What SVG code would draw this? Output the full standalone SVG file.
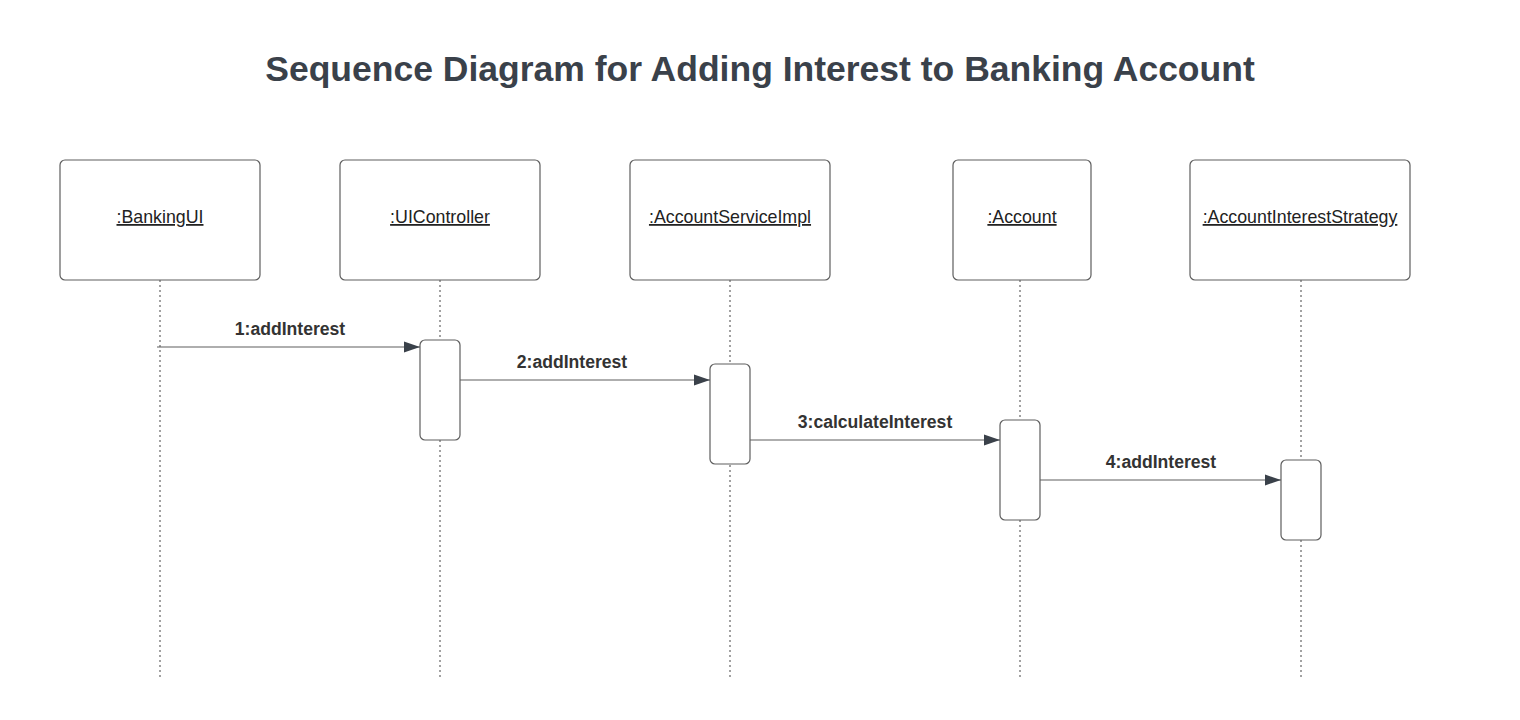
<svg xmlns="http://www.w3.org/2000/svg" width="1520" height="720" viewBox="0 0 1520 720">
<defs>
<marker id="arr" markerWidth="18" markerHeight="14" refX="16" refY="7" orient="auto" markerUnits="userSpaceOnUse">
<path d="M0,1.5 L16,7 L0,12.5 Z" fill="#3a414a"/>
</marker>
<style>
.box{fill:#fff;stroke:#5e5e5e;stroke-width:1.2}
.act{fill:#fff;stroke:#5e5e5e;stroke-width:1.2}
.life{stroke:#444;stroke-width:1;stroke-dasharray:2,3;fill:none}
.msg{stroke:#5e5e5e;stroke-width:1.2;fill:none;marker-end:url(#arr)}
.name{font-family:"Liberation Sans",Arial,sans-serif;font-size:17.8px;fill:#222;text-anchor:middle;text-decoration:underline}
.lbl{font-family:"Liberation Sans",Arial,sans-serif;font-size:17.6px;font-weight:bold;fill:#333;text-anchor:middle}
.title{font-family:"Liberation Sans",Arial,sans-serif;font-size:35.5px;font-weight:bold;fill:#3a414a;text-anchor:middle}
</style>
</defs>
<rect width="1520" height="720" fill="#fff"/>
<text class="title" x="760" y="81">Sequence Diagram for Adding Interest to Banking Account</text>

<g id="lifelines">
<line class="life" x1="160" y1="280" x2="160" y2="680"/>
<line class="life" x1="440" y1="280" x2="440" y2="680"/>
<line class="life" x1="730" y1="280" x2="730" y2="680"/>
<line class="life" x1="1020" y1="280" x2="1020" y2="680"/>
<line class="life" x1="1301" y1="280" x2="1301" y2="680"/>
</g>

<g id="bankingui">
<rect class="box" x="60" y="160" width="200" height="120" rx="5"/>
<text class="name" x="160" y="223">:BankingUI</text>
</g>
<g id="uicontroller">
<rect class="box" x="340" y="160" width="200" height="120" rx="5"/>
<text class="name" x="440" y="223">:UIController</text>
<rect class="act" x="420" y="340" width="40" height="100" rx="5"/>
</g>
<g id="accountserviceimpl">
<rect class="box" x="630" y="160" width="200" height="120" rx="5"/>
<text class="name" x="730" y="223">:AccountServiceImpl</text>
<rect class="act" x="710" y="364" width="40" height="100" rx="5"/>
</g>
<g id="account">
<rect class="box" x="953" y="160" width="138" height="120" rx="5"/>
<text class="name" x="1022" y="223">:Account</text>
<rect class="act" x="1000" y="420" width="40" height="100" rx="5"/>
</g>
<g id="accountintereststrategy">
<rect class="box" x="1190" y="160" width="220" height="120" rx="5"/>
<text class="name" x="1300" y="223">:AccountInterestStrategy</text>
<rect class="act" x="1281" y="460" width="40" height="80" rx="5"/>
</g>

<g id="connectors">
<line class="msg" x1="157" y1="347" x2="420" y2="347"/>
<text class="lbl" x="290" y="335">1:addInterest</text>
<line class="msg" x1="460" y1="380" x2="710" y2="380"/>
<text class="lbl" x="572" y="368">2:addInterest</text>
<line class="msg" x1="750" y1="440" x2="1000" y2="440"/>
<text class="lbl" x="875" y="428">3:calculateInterest</text>
<line class="msg" x1="1040" y1="480" x2="1281" y2="480"/>
<text class="lbl" x="1161" y="468">4:addInterest</text>
</g>
</svg>
